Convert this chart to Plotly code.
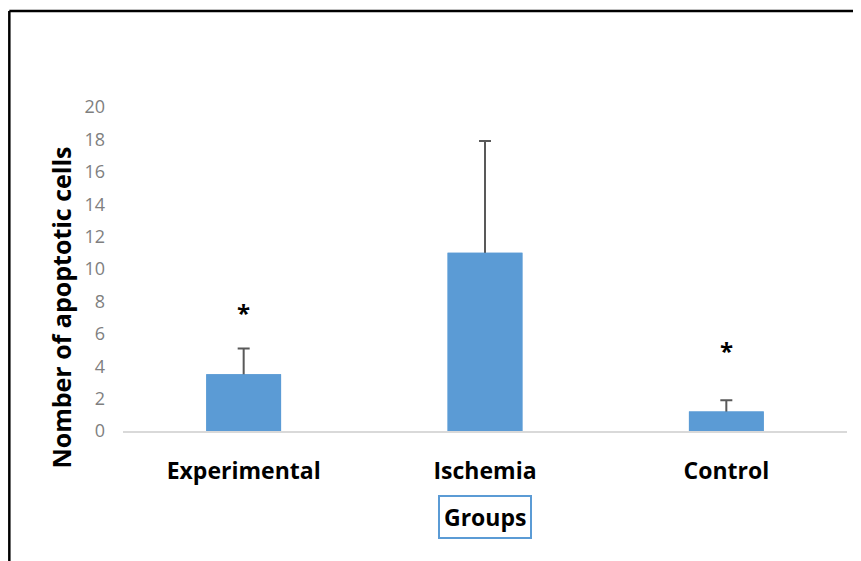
import plotly.graph_objects as go

categories = ["Experimental", "Ischemia", "Control"]
values = [3.5, 11.0, 1.2]
errors = [1.6, 6.9, 0.7]
star_groups = ["Experimental", "Control"]
star_y = [7.3, 5.0]
y_ticks = [0, 2, 4, 6, 8, 10, 12, 14, 16, 18, 20]

FONT = "Open Sans"
BAR_COLOR = "#5B9BD5"

fig = go.Figure()
# bars carrying the (upper) error bars; the lower stub is hidden under the copy drawn on top
fig.add_trace(go.Bar(
    x=categories, y=values, width=0.31,
    marker=dict(color=BAR_COLOR, line=dict(width=0)),
    error_y=dict(type="data", symmetric=False, array=errors,
                 arrayminus=[v / 2 for v in values],
                 color="#595959", thickness=2, width=6),
))
fig.add_trace(go.Bar(
    x=categories, y=values, width=0.31,
    marker=dict(color=BAR_COLOR, line=dict(width=0)),
    hoverinfo="skip",
))

for g, yv in zip(star_groups, star_y):
    fig.add_annotation(x=g, y=yv, text="<b>*</b>", showarrow=False,
                       font=dict(size=24, color="black", family=FONT))

fig.add_annotation(xref="paper", yref="paper", x=-0.086, y=0.38,
                   xanchor="center", yanchor="middle",
                   text="<b>Nomber of apoptotic cells</b>", textangle=-90,
                   showarrow=False,
                   font=dict(size=25, color="black", family=FONT))

fig.add_annotation(xref="paper", yref="paper", x=0.5, y=-0.265,
                   xanchor="center", yanchor="middle",
                   text="<b>Groups</b>", showarrow=False,
                   bordercolor=BAR_COLOR, borderwidth=2, borderpad=4,
                   bgcolor="white",
                   font=dict(size=23, color="black", family=FONT))

# frame (top and left edges of the cropped picture border)
fig.add_shape(type="line", xref="paper", yref="paper",
              x0=-0.157, x1=1.1, y0=1.296, y1=1.296,
              line=dict(color="black", width=2.5))
fig.add_shape(type="line", xref="paper", yref="paper",
              x0=-0.157, x1=-0.157, y0=-0.6, y1=1.296,
              line=dict(color="black", width=2.5))

# page body has an 8px margin; compensate so the plot lands where the reference has it
fig.update_layout(
    width=853, height=553,
    margin=dict(l=115, r=14, t=99, b=130),
    paper_bgcolor="white", plot_bgcolor="white",
    showlegend=False, barmode="overlay",
    xaxis=dict(showline=True, linecolor="#D9D9D9", linewidth=2,
               showgrid=False, ticks="", ticklabelstandoff=18,
               tickfont=dict(size=23, color="black", family=FONT),
               tickprefix="<b>", ticksuffix="</b>"),
    yaxis=dict(range=[0, 20], tickvals=y_ticks, showgrid=False,
               showline=False, zeroline=False, ticks="",
               ticklabelstandoff=17,
               tickfont=dict(size=18, color="#7F7F7F", family=FONT)),
)

fig.write_html("out.html")
